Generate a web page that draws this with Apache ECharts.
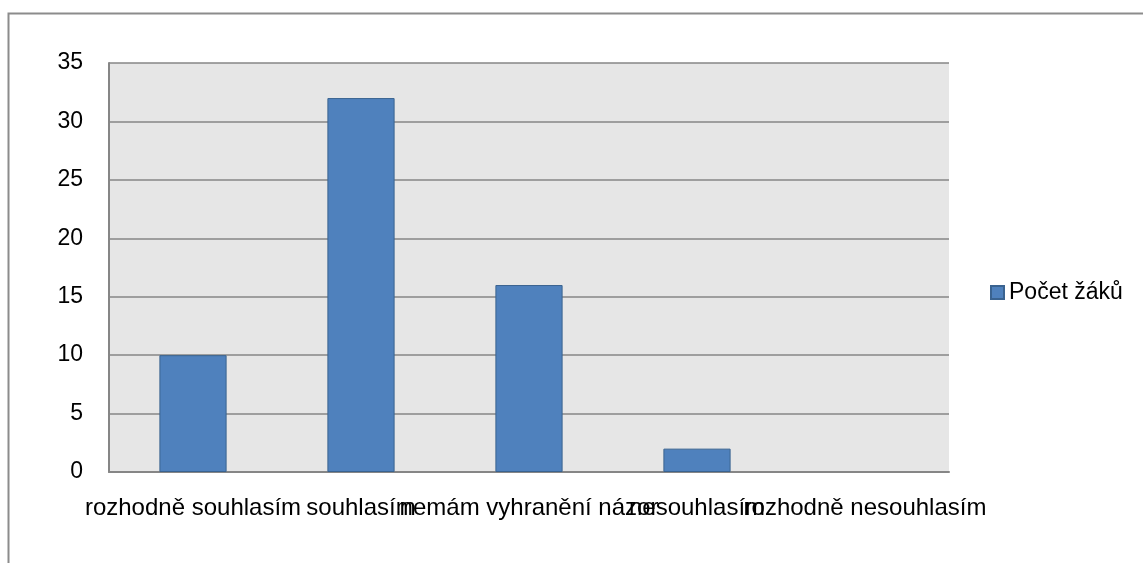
<!DOCTYPE html>
<html>
<head>
    <meta charset="UTF-8">
    <title></title>
    <style>
        html, body { margin: 0; padding: 0; background: #fff; }
        #container { width: 1143px; height: 563px; }
    </style>
</head>
<body>
    <div id="container"></div>
    <script src="https://cdn.jsdelivr.net/npm/echarts@6/dist/echarts.min.js"></script>
    <script>
        var categories = ['rozhodně souhlasím', 'souhlasím', 'nemám vyhranění názor', 'nesouhlasím', 'rozhodně nesouhlasím'];
        var pocetZaku = [10, 32, 16, 2, 0];
        var seriesName = 'Počet žáků';
        var yTicks = { min: 0, max: 35, interval: 5 };

        var font = 'Liberation Sans';
        var myChart = echarts.init(document.getElementById('container'));
        myChart.setOption({
            animation: false,
            textStyle: { fontFamily: font },
            graphic: [{
                type: 'rect',
                shape: { x: 8.5, y: 13.5, width: 1300, height: 700 },
                style: { fill: 'none', stroke: '#8c8c8c', lineWidth: 2 },
                silent: true
            }],
            grid: {
                left: 109, right: 194, top: 63, bottom: 91,
                show: true,
                backgroundColor: '#e6e6e6',
                borderWidth: 0
            },
            legend: {
                data: [seriesName],
                left: 985, top: 276,
                icon: 'rect',
                itemWidth: 13, itemHeight: 13, itemGap: 8,
                textStyle: { fontFamily: font, fontSize: 23, color: '#000' }
            },
            xAxis: {
                type: 'category',
                data: categories,
                axisLine: { show: true, lineStyle: { color: '#868686', width: 2 } },
                axisTick: { show: false },
                axisLabel: { interval: 0, margin: 24, fontSize: 24, color: '#000', fontFamily: font }
            },
            yAxis: {
                type: 'value',
                min: yTicks.min, max: yTicks.max, interval: yTicks.interval,
                axisLine: { show: true, lineStyle: { color: '#868686', width: 2 } },
                axisTick: { show: false },
                axisLabel: { margin: 26, fontSize: 23, color: '#000', fontFamily: font },
                splitLine: { lineStyle: { color: '#868686', width: 1.5 } }
            },
            series: [{
                name: seriesName,
                type: 'bar',
                data: pocetZaku.map(function (v) {
                    return v === 0 ? { value: v, itemStyle: { borderWidth: 0 } } : v;
                }),
                barWidth: '40%',
                itemStyle: { color: '#4f81bd', borderColor: '#3a6390', borderWidth: 1 }
            }]
        });
    </script>
</body>
</html>
